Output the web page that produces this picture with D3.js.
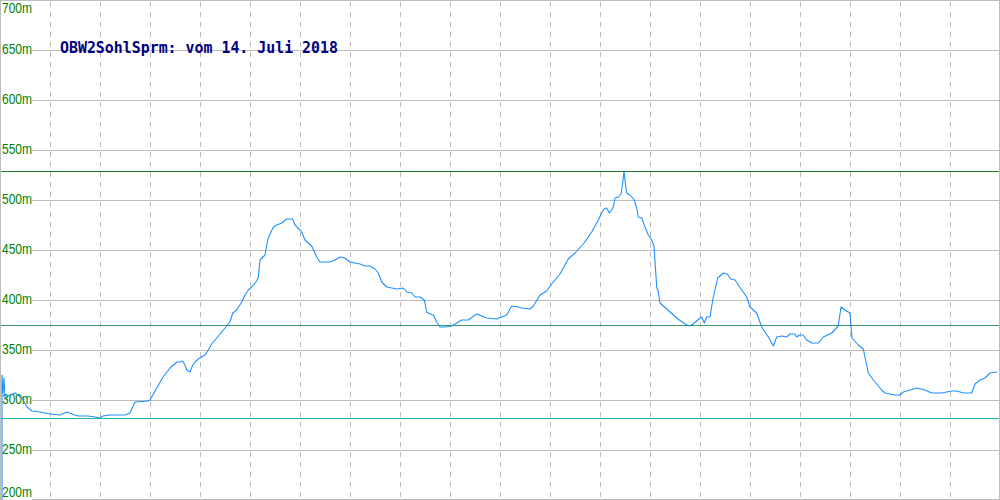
<!DOCTYPE html>
<html><head><meta charset="utf-8">
<script src="https://cdn.jsdelivr.net/npm/d3@7"></script>
<style>html,body{margin:0;padding:0;background:#fff;overflow:hidden}</style>
</head><body>
<script>
const title = "OBW2SohlSprm: vom 14. Juli 2018";
const yTicks = [200,250,300,350,400,450,500,550,600,650,700];
const xGrid = [50,100,150,200,250,300,350,400,450,500,550,600,650,700,750,800,850,900,950];
const refLines = [529, 375, 282]; // max, avg, min
const refColors = ["#217a21", "#3f9a6e", "#22b4aa"];
const distance = [2,2,3,4,5,10,15,18,22,27,32,40,50,60,67,72,78,88,95,100,103,110,125,130,135,148,150,163,170,177,180,182.7,185,186.7,190,192.7,195,198.3,201.7,205,208.3,211.7,216.7,221.7,226.7,230,232.7,236.7,241.7,245,248.3,251.7,256.7,258.3,260,265,266.7,268.3,273.3,276.7,281.7,286.7,292.7,295,300,301.7,305,311.7,316.7,320,325,330,335,340,345,350,360,365,370,375,378.3,381.7,386.7,396.7,403.3,406.7,411.7,415,420,424.3,426.7,430,433.3,436.7,440,445,451.7,456.7,461.7,468.3,476.7,486.7,496.7,501.7,506.7,511.7,518.3,521.7,530,533.3,540,546.7,551.7,560,568.3,575,583.3,591.7,598.3,601.7,605,607.3,609.3,611.7,613.3,615,618.3,621,622.7,624,625.3,626.7,630,634.3,636.7,638.3,641.7,645,648.3,651.7,654,656.7,658.3,660,666.7,676.7,685,689.3,693.3,700,701.7,704.3,706.7,710,712.7,717.7,723.3,727.3,730.7,735,741.7,746.7,750,756.7,761.7,768.3,773.3,776.7,781.7,786.7,790,795,796.7,799.3,803.3,806.7,811.7,818.3,823.3,831.7,838.3,841,845,850,852,858.3,863.3,868.3,873.3,881.7,885,895,900,903.3,910,916.7,925,931.7,941.7,951.7,956.7,963.3,971.7,975,980,985,990,997];
const elevation = [200,325,307,322,302,305,307,305,302,293,289,288,286,285,288,286,284,284,283,282,284,285,285,287,298,299,300,323,332,338,338,339,335,330,328,335,338,341,343,345,350,356,362,368,374,378,387,390,398,405,410,413,419,423,440,445,455,462,473,475,477,481,481,475,470,468,460,454,443,438,438,438,440,443,442,438,436,434,434,431,427,418,413,411,412,408,407,403,403,400,388,386,385,378,373,373,374,377,380,380,386,382,381,383,385,394,393,392,391,394,405,409,416,426,441,447,456,468,480,487,492,491,487,490,493,502,503,506,517,529,517,507,505,500,492,483,482,473,465,460,454,413,408,397,391,382,376,374,376,382,383,377,383,383,400,422,427,426,421,420,410,403,393,387,373,363,354,363,364,363,366,366,363,365,365,360,357,357,363,367,374,393,390,387,362,355,351,327,320,310,307,305,305,308,310,312,310,307,307,309,309,307,307,316,320,322,327,328];

const W = 1000, H = 500;
const svg = d3.select("body").append("svg").attr("width", W).attr("height", H);
const x = d3.scaleLinear().domain([0, 1000]).range([0, 1000]);
const y = d3.scaleLinear().domain([200, 700]).range([500, 0]);
const px = v => Math.round(v) + 0.5;

// vertical dashed grid
svg.append("g").selectAll("line").data(xGrid).join("line")
  .attr("x1", d => px(x(d))).attr("x2", d => px(x(d)))
  .attr("y1", 2).attr("y2", H)
  .attr("stroke", "#bdbdbd").attr("stroke-dasharray", "5,5")
  .attr("shape-rendering", "crispEdges");

// horizontal grid
svg.append("g").selectAll("line").data(yTicks).join("line")
  .attr("x1", d => (d === 700 ? 0 : 32)).attr("x2", 999)
  .attr("y1", d => Math.min(px(y(d)), H - 0.5)).attr("y2", d => Math.min(px(y(d)), H - 0.5))
  .attr("stroke", "#bdbdbd").attr("shape-rendering", "crispEdges");

// frame left / right
svg.append("line").attr("x1", 0.5).attr("x2", 0.5).attr("y1", 0).attr("y2", H)
  .attr("stroke", "#bdbdbd").attr("shape-rendering", "crispEdges");
svg.append("line").attr("x1", 999.5).attr("x2", 999.5).attr("y1", 0).attr("y2", H)
  .attr("stroke", "#bdbdbd").attr("shape-rendering", "crispEdges");

// reference lines
svg.append("g").selectAll("line").data(refLines).join("line")
  .attr("x1", 1).attr("x2", 999)
  .attr("y1", d => px(y(d))).attr("y2", d => px(y(d)))
  .attr("stroke", (d, i) => refColors[i]).attr("shape-rendering", "crispEdges");

// y labels
svg.append("g").selectAll("text").data(yTicks).join("text")
  .attr("x", 2)
  .attr("y", d => d === 700 ? 13 : d === 200 ? 497 : y(d) + 4)
  .attr("font-family", "'Liberation Sans', Arial, sans-serif")
  .attr("font-size", 14)
  .attr("textLength", 30).attr("lengthAdjust", "spacingAndGlyphs")
  .attr("fill", "#008000")
  .text(d => d + "m");

// elevation line
const line = d3.line().x((d, i) => x(distance[i])).y(d => y(d));
svg.append("path").datum(elevation)
  .attr("d", line)
  .attr("fill", "none").attr("stroke", "#1e90ff").attr("stroke-width", 1.1)
  .attr("stroke-linejoin", "round");

// title
svg.append("text").attr("x", 60).attr("y", 53)
  .attr("font-family", "'DejaVu Sans Mono', monospace")
  .attr("font-size", 15).attr("font-weight", "bold")
  .attr("textLength", 278).attr("lengthAdjust", "spacingAndGlyphs")
  .attr("fill", "#000080")
  .text(title);
</script>
</body></html>
